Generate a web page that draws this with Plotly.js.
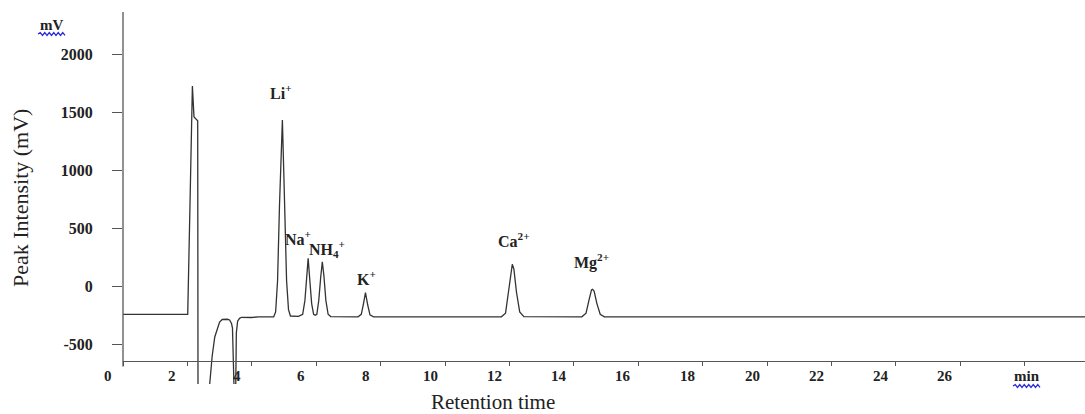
<!DOCTYPE html>
<html>
<head>
<meta charset="utf-8">
<script src="https://cdn.plot.ly/plotly-3.0.1.min.js"></script>
<style>html,body{margin:0;padding:0;background:#fff;}#chart{width:1085px;height:414px;}</style>
</head>
<body>
<div id="chart"></div>
<script>
// Chromatogram (retention time in min, signal in mV)
const timeMin = [0, 2.00, 2.01, 2.08, 2.155, 2.205, 2.32, 2.33, 2.66, 2.69, 2.77, 2.85, 3.00, 3.08, 3.16, 3.24, 3.31, 3.37, 3.40, 3.42, 3.46, 3.50, 3.52, 3.56, 3.62, 3.68, 3.99, 4.20, 4.60, 4.68, 4.74, 4.80, 4.86, 4.95, 5.02, 5.08, 5.14, 5.20, 5.45, 5.58, 5.65, 5.70, 5.75, 5.80, 5.86, 5.92, 5.97, 6.02, 6.08, 6.14, 6.19, 6.24, 6.30, 6.37, 6.45, 7.30, 7.40, 7.46, 7.53, 7.60, 7.67, 7.78, 11.75, 11.88, 11.97, 12.05, 12.09, 12.14, 12.22, 12.32, 12.45, 14.25, 14.38, 14.47, 14.55, 14.58, 14.63, 14.72, 14.82, 14.95, 29.9];
const signalMv = [-240, -240, -240, 700, 1731, 1464, 1430, -1000, -1000, -851, -600, -436, -307, -285, -281, -283, -289, -320, -360, -850, -1000, -900, -400, -300, -275, -266, -268, -262, -262, -262, -220, 50, 700, 1438, 700, 50, -200, -255, -258, -240, -120, 80, 243, 60, -150, -240, -248, -240, -120, 80, 214, 90, -120, -240, -260, -262, -240, -160, -53, -160, -245, -262, -262, -230, -50, 150, 192, 150, -50, -220, -260, -262, -230, -120, -30, -24, -40, -150, -240, -262, -263];

// Ion peak labels
const ionLabels = ['Li<sup>+</sup>', 'Na<sup>+</sup>', 'NH<sub>4</sub><sup>+</sup>', 'K<sup>+</sup>', 'Ca<sup>2+</sup>', 'Mg<sup>2+</sup>'];
const ionLabelTime = [4.90, 5.42, 6.33, 7.57, 12.13, 14.55];
const ionLabelMv = [1680, 419, 324, 73, 402, 212];

// Axis ticks
const xTickVals = [0, 2, 4, 6, 8, 10, 12, 14, 16, 18, 20, 22, 24, 26, 28];
const xTickText = ['0', '2', '4', '6', '8', '10', '12', '14', '16', '18', '20', '22', '24', '26', 'min'];
const yTickVals = [-500, 0, 500, 1000, 1500, 2000];
const yTickText = ['-500', '0', '500', '1000', '1500', '2000'];

const W = 1085, H = 414;
const mL = 123, mR = 0, mT = 12, mB = 30;
const plotW = W - mL - mR, plotH = H - mT - mB;
const yMin = -842, yMax = 2370;
const xAxisMv = -643;
const xAxisPos = (xAxisMv - yMin) / (yMax - yMin);

function px2paperX(px) { return (px - mL) / plotW; }
function px2paperY(py) { return (H - mB - py) / plotH; }
function squiggle(x0, x1, yc, amp, wl) {
  let d = 'M ' + px2paperX(x0) + ',' + px2paperY(yc);
  let up = true;
  for (let x = x0 + wl / 2; x <= x1 + 0.01; x += wl / 2) {
    d += ' L ' + px2paperX(x) + ',' + px2paperY(yc + (up ? -amp : amp));
    up = !up;
  }
  return {type: 'path', xref: 'paper', yref: 'paper', path: d, line: {color: '#2b2bd8', width: 1.3}};
}

const serif = 'Liberation Serif, Times New Roman, serif';
const annotations = ionLabels.map((t, i) => ({
  x: ionLabelTime[i], y: ionLabelMv[i], xref: 'x', yref: 'y',
  text: '<b>' + t + '</b>', showarrow: false,
  font: {family: serif, size: 16, color: '#222'}
}));
// x tick labels (offset to the left of their ticks, "min" centred)
xTickVals.forEach((v, i) => {
  const isUnit = xTickText[i] === 'min';
  annotations.push({
    xref: 'x', yref: 'y', x: v, y: xAxisMv,
    xshift: isUnit ? 2 : -15, yshift: -15,
    xanchor: 'center', yanchor: 'middle',
    text: '<b>' + xTickText[i] + '</b>', showarrow: false,
    font: {family: serif, size: 15, color: '#222'}
  });
});
annotations.push({
  xref: 'paper', yref: 'paper', x: 0, y: 0.5, xshift: 20 - mL,
  xanchor: 'center', yanchor: 'middle',
  text: 'Peak Intensity (mV)', textangle: -90, showarrow: false,
  font: {family: serif, size: 22, color: '#222'}
});
annotations.push({
  xref: 'x', yref: 'paper', x: 11.48, y: 0, yshift: -18, yanchor: 'middle', xanchor: 'center',
  text: 'Retention time', showarrow: false,
  font: {family: serif, size: 21, color: '#222'}
});
annotations.push({
  xref: 'paper', yref: 'paper', x: 0, y: 1, xshift: 51 - mL, yshift: -13, yanchor: 'middle', xanchor: 'center',
  text: '<b>mV</b>', showarrow: false,
  font: {family: serif, size: 15, color: '#222'}
});

const shapes = [
  {type: 'line', xref: 'paper', yref: 'y', x0: 0, x1: 0, y0: -690, y1: yMax, line: {color: '#555', width: 1.3}},
  squiggle(38, 66, 34, 1.4, 4.5),
  squiggle(1013, 1041, 386, 1.4, 4.5)
];

const trace = {
  x: timeMin, y: signalMv, type: 'scatter', mode: 'lines',
  line: {color: '#333', width: 1.3}, hoverinfo: 'skip'
};

const layout = {
  width: W, height: H,
  margin: {l: mL, r: mR, t: mT, b: mB, pad: 0},
  paper_bgcolor: '#fff', plot_bgcolor: '#fff',
  showlegend: false,
  font: {family: serif, color: '#222'},
  xaxis: {
    range: [0, (W - mL) / 32.2], anchor: 'free', position: xAxisPos,
    showline: true, linecolor: '#555', linewidth: 1.3, showgrid: false, zeroline: false,
    ticks: 'outside', ticklen: 4, tickcolor: '#555', tickwidth: 1,
    tickmode: 'array', tickvals: xTickVals, showticklabels: false
  },
  yaxis: {
    range: [yMin, yMax], showline: false, showgrid: false, zeroline: false,
    ticks: 'outside', ticklen: 10, tickcolor: '#555', tickwidth: 1,
    tickmode: 'array', tickvals: yTickVals, ticktext: yTickText,
    ticklabelstandoff: 16,
    tickfont: {family: serif, size: 16, color: '#222', weight: 'bold'}
  },
  annotations: annotations,
  shapes: shapes
};

Plotly.newPlot('chart', [trace], layout, {staticPlot: true, displayModeBar: false});
</script>
</body>
</html>
